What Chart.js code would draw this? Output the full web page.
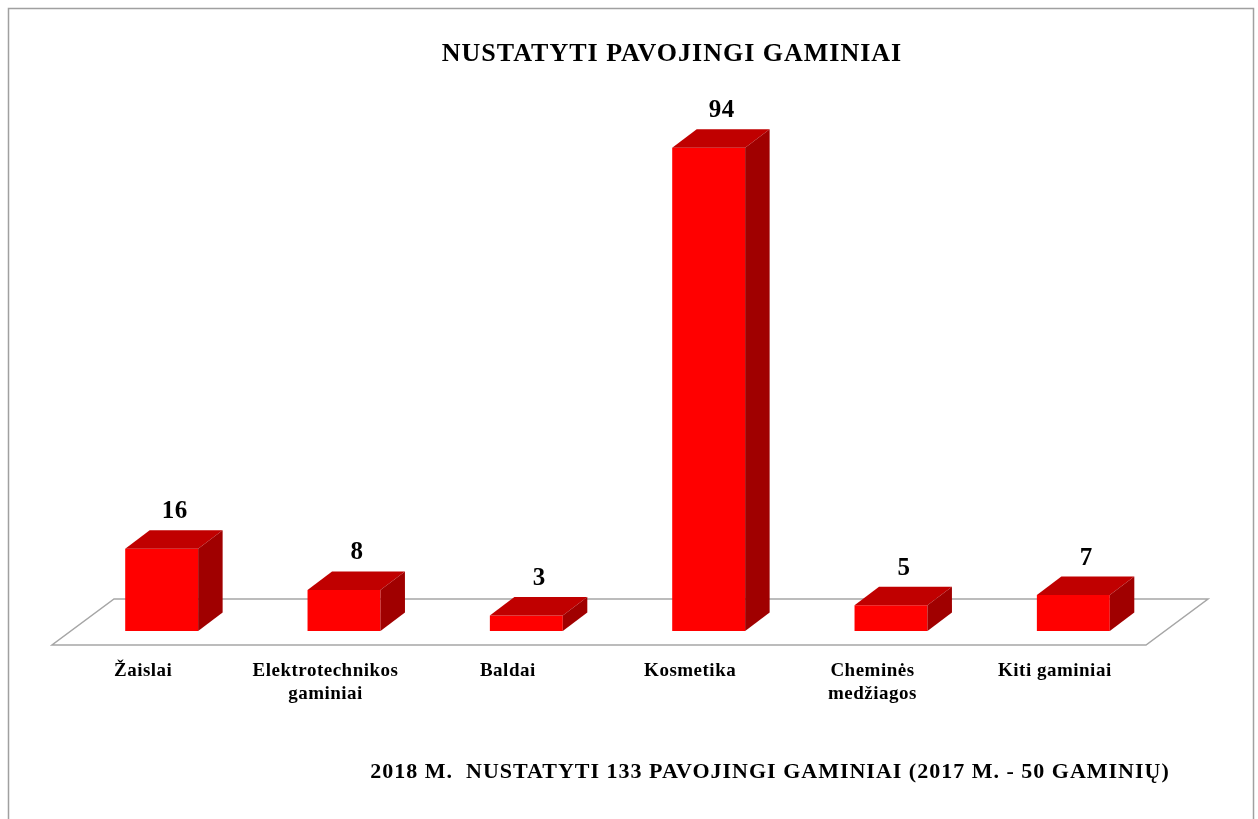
<!DOCTYPE html>
<html>
<head>
<meta charset="utf-8">
<script src="https://cdn.jsdelivr.net/npm/chart.js@4/dist/chart.umd.min.js"></script>
<style>
  html, body { margin: 0; padding: 0; background: #fff; }
  #wrap { width: 1258px; height: 819px; }
</style>
</head>
<body>
<div id="wrap"><canvas id="chart"></canvas></div>
<script>
const categories = ['Žaislai', ['Elektrotechnikos', 'gaminiai'], 'Baldai', 'Kosmetika', ['Cheminės', 'medžiagos'], 'Kiti gaminiai'];
const values = [16, 8, 3, 94, 5, 7];
const titleText = 'NUSTATYTI PAVOJINGI GAMINIAI';
const noteText = '2018 M.  NUSTATYTI 133 PAVOJINGI GAMINIAI (2017 M. - 50 GAMINIŲ)';
const yMin = 0;
const yMax = 100;

const FONT = "'Liberation Serif', 'Times New Roman', serif";

// floor and box depth (fake 3D)
const FLOOR_DX = 62, FLOOR_DY = -46;
const SHIFT_X = 18.5, SHIFT_Y = -14;
const DEPTH_X = 24.5, DEPTH_Y = -18.5;

const box3d = {
  id: 'box3d',
  beforeDraw(chart) {
    const ctx = chart.ctx;
    ctx.letterSpacing = '0.5px';

    ctx.save();
    ctx.strokeStyle = '#a0a0a0';
    ctx.lineWidth = 1.5;
    ctx.strokeRect(8.5, 8.5, 1245, 830);

    ctx.fillStyle = '#000';
    ctx.textAlign = 'center';
    ctx.textBaseline = 'alphabetic';
    ctx.font = 'bold 26px ' + FONT;
    ctx.letterSpacing = '1px';
    ctx.fillText(titleText, 672, 61);
    ctx.font = 'bold 22px ' + FONT;
    ctx.letterSpacing = '1px';
    ctx.fillText(noteText, 770, 778);
    ctx.restore();
  },
  beforeDatasetsDraw(chart) {
    const { ctx, chartArea: a } = chart;
    ctx.save();
    ctx.strokeStyle = '#a6a6a6';
    ctx.lineWidth = 1.5;
    ctx.beginPath();
    ctx.moveTo(a.left, a.bottom);
    ctx.lineTo(a.right, a.bottom);
    ctx.lineTo(a.right + FLOOR_DX, a.bottom + FLOOR_DY);
    ctx.lineTo(a.left + FLOOR_DX, a.bottom + FLOOR_DY);
    ctx.closePath();
    ctx.stroke();
    ctx.restore();

    ctx.save();
    ctx.translate(SHIFT_X, SHIFT_Y);
  },
  afterDatasetsDraw(chart) {
    const ctx = chart.ctx;
    const meta = chart.getDatasetMeta(0);
    meta.data.forEach((bar, i) => {
      const { x, y, base, width } = bar.getProps(['x', 'y', 'base', 'width'], true);
      const l = x - width / 2, r = x + width / 2;

      ctx.fillStyle = '#c00000';
      ctx.beginPath();
      ctx.moveTo(l, y);
      ctx.lineTo(r, y);
      ctx.lineTo(r + DEPTH_X, y + DEPTH_Y);
      ctx.lineTo(l + DEPTH_X, y + DEPTH_Y);
      ctx.closePath();
      ctx.fill();

      ctx.fillStyle = '#a00000';
      ctx.beginPath();
      ctx.moveTo(r, y);
      ctx.lineTo(r, base);
      ctx.lineTo(r + DEPTH_X, base + DEPTH_Y);
      ctx.lineTo(r + DEPTH_X, y + DEPTH_Y);
      ctx.closePath();
      ctx.fill();

      ctx.fillStyle = '#000';
      ctx.font = 'bold 25px ' + FONT;
      ctx.letterSpacing = '0.5px';
      ctx.textAlign = 'center';
      ctx.textBaseline = 'alphabetic';
      ctx.fillText(String(values[i]), x + 13, y + DEPTH_Y - 12);
    });
    ctx.restore();
  }
};

new Chart(document.getElementById('chart'), {
  type: 'bar',
  data: {
    labels: categories,
    datasets: [{
      data: values,
      backgroundColor: '#ff0000',
      borderWidth: 0,
      categoryPercentage: 1,
      barPercentage: 0.4,
      clip: false
    }]
  },
  options: {
    responsive: true,
    maintainAspectRatio: false,
    animation: false,
    layout: { padding: { left: 52, right: 112, top: 131, bottom: 114 } },
    plugins: {
      legend: { display: false },
      title: { display: false },
      tooltip: { enabled: false }
    },
    scales: {
      x: {
        grid: { display: false, drawTicks: false },
        border: { display: false },
        ticks: {
          color: '#000',
          padding: 15,
          maxRotation: 0,
          autoSkip: false,
          font: { family: FONT, size: 19, weight: 'bold', lineHeight: 23 / 19 }
        },
        afterFit(scale) { scale.height = 60; }
      },
      y: {
        display: false,
        min: yMin,
        max: yMax
      }
    }
  },
  plugins: [box3d]
});
</script>
</body>
</html>
